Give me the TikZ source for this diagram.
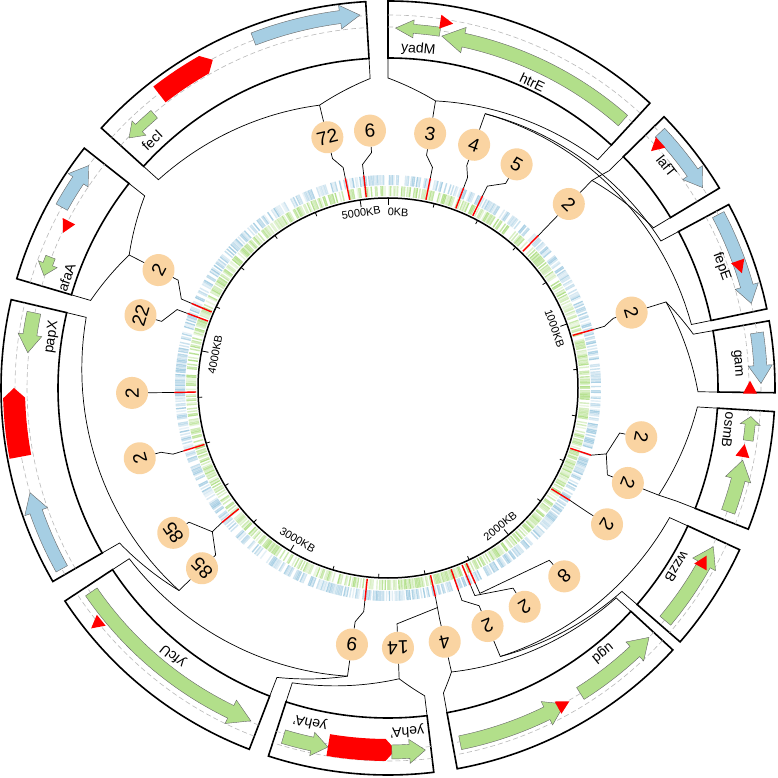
\documentclass[tikz,border=0pt]{standalone}
\usepackage{fontspec}
\setmainfont{Liberation Sans}
\usepackage{xcolor}
\usepackage{tikz}

\definecolor{gbar}{RGB}{178,223,138}
\definecolor{bbar}{RGB}{166,206,227}
\definecolor{peach}{RGB}{250,212,162}
\definecolor{dashgray}{RGB}{185,185,185}

% angles are taken clockwise from the top, radii in px
\newcommand{\genebox}[2]{%
  \draw[boxline] ({90-#1}:330) arc[start angle={90-#1}, end angle={90-#2}, radius=330]
    -- ({90-#2}:387) arc[start angle={90-#2}, end angle={90-#1}, radius=387] -- cycle;
  \draw[strand] ({90-#1}:361) arc[start angle={90-#1}, end angle={90-#2}, radius=361];
  \draw[strand] ({90-#1}:373) arc[start angle={90-#1}, end angle={90-#2}, radius=373];
}
\newcommand{\fan}[2]{%
  \draw[thinline] plot[domain=0:1, samples=30, variable=\fr] ({90-#1-(#2-#1)*\fr}:{291+19*\fr}) -- ({90-#2}:330);
}
% style, tail, tip, centre radius, body half width, head half width, head length
\newcommand{\genearrow}[7]{%
  \pgfmathsetmacro{\ga}{90-#2}%
  \pgfmathsetmacro{\gb}{90-#3+sign(#3-#2)*#7/#4*57.296}%
  \pgfmathsetmacro{\gc}{90-#3}%
  \pgfmathsetmacro{\gri}{#4-#5}\pgfmathsetmacro{\gro}{#4+#5}%
  \pgfmathsetmacro{\ghi}{#4-#6}\pgfmathsetmacro{\gho}{#4+#6}%
  \filldraw[#1] (\ga:\gri) arc[start angle=\ga, end angle=\gb, radius=\gri] -- (\gb:\ghi) -- (\gc:#4)
    -- (\gb:\gho) -- (\gb:\gro) arc[start angle=\gb, end angle=\ga, radius=\gro] -- cycle;
}
\newcommand{\redflag}[3]{%
  \begin{scope}[shift={({90-#1}:#2)}, rotate={#3}]
    \fill[red] (8,0) -- (-5,7) -- (-5,-7) -- cycle;
  \end{scope}}

\begin{document}
\begin{tikzpicture}[x=1pt, y=1pt,
    boxline/.style={line width=1.6pt, fill=white},
    strand/.style={dashgray, dashed, dash pattern=on 5pt off 3pt, line width=0.6pt},
    thinline/.style={line width=0.7pt},
    link/.style={line width=0.7pt},
    greengene/.style={fill=gbar, draw=black!60, line width=0.4pt},
    bluegene/.style={fill=bbar, draw=black!60, line width=0.4pt},
    redgene/.style={fill=red, draw=none},
    bubble/.style={circle, fill=peach, minimum size=32pt, inner sep=0pt, font=\fontsize{19}{19}\selectfont},
    genelabel/.style={font=\fontsize{14}{14}\selectfont, inner sep=0pt},
    kblabel/.style={font=\fontsize{11}{11}\selectfont, inner sep=0pt}]
\path[fill=white, use as bounding box] (-388,-390) rectangle (389,388);

% gene tracks
\pgfmathsetseed{42}
\foreach \k in {0,...,899}{
  \pgfmathsetmacro{\ang}{90-\k*0.4}
  \pgfmathtruncatemacro{\gs}{rnd<0.3 ? 0 : 25+75*rnd}
  \ifnum\gs>0 \draw[gbar!\gs, line width=1.4pt] (\ang:192) -- (\ang:202); \fi
  \pgfmathtruncatemacro{\bs}{rnd<0.3 ? 0 : 25+75*rnd}
  \ifnum\bs>0 \draw[bbar!\bs, line width=1.4pt] (\ang:203) -- (\ang:213); \fi
}
\draw[line width=1.5pt] (0,0) circle[radius=190];
\foreach \k in {0,...,25}{
  \pgfmathsetmacro{\ang}{90-\k*14.0625}
  \pgfmathsetmacro{\tl}{mod(\k,5)==0 ? 183 : 186}
  \draw[line width=0.8pt] (\ang:190) -- (\ang:\tl);
}
\node[kblabel, rotate=-3.1] (k0) at ({90-3.3}:176) {0KB};
\node[kblabel, rotate=-70.3] (k1) at ({90-70.3}:177) {1000KB};
\node[kblabel, rotate=39.1] (k2) at ({90-140.9}:178) {2000KB};
\node[kblabel, rotate=-30.7] (k3) at ({90-210.7}:177) {3000KB};
\node[kblabel, rotate=79.1] (k4) at ({90-280.9}:176) {4000KB};
\node[kblabel, rotate=8.5] (k5) at ({90-351.3}:177) {5000KB};

% red marks on the tracks
\foreach \a in {348.5,353.5,11.4,20.7,26.2,44.6,74.1,108.3,121.7,155.9,157.3,160.8,167.2,186.2,231,252.9,268.8,290.4,293.3}
  \draw[red, line width=1.4pt] ({90-\a}:192) -- ({90-\a}:214);

% bubbles
\node[bubble, rotate=13.6] (b72) at ({90-346.4}:258) {72};
\node[bubble, rotate=4] (b6) at ({90-356}:258) {6};
\node[bubble, rotate=-9.4] (b3) at ({90-9.4}:258) {3};
\node[bubble, rotate=-19.5] (b4a) at ({90-19.5}:258) {4};
\node[bubble, rotate=-29.9] (b5) at ({90-29.9}:258) {5};
\node[bubble, rotate=-44.5] (b2a) at ({90-44.5}:258) {2};
\node[bubble, rotate=-72.8] (b2b) at ({90-72.8}:255) {2};
\node[bubble, rotate=-101] (b2c) at ({90-101}:258) {2};
\node[bubble, rotate=-111.6] (b2d) at ({90-111.6}:258) {2};
\node[bubble, rotate=-121.9] (b2e) at ({90-121.9}:258) {2};
\node[bubble, rotate=-136.9] (b8) at ({90-136.9}:258) {8};
\node[bubble, rotate=-148] (b2f) at ({90-148}:258) {2};
\node[bubble, rotate=-157.3] (b2g) at ({90-157.3}:258) {2};
\node[bubble, rotate=-167.4] (b4b) at ({90-167.4}:260) {4};
\node[bubble, rotate=-177.8] (b14) at ({90-177.8}:260) {14};
\node[bubble, rotate=-188] (b9) at ({90-188}:259) {9};
\node[bubble, rotate=-225.9] (b85a) at ({90-225.9}:259) {85};
\node[bubble, rotate=-236] (b85b) at ({90-236}:259) {85};
\node[bubble, rotate=-254.2] (b2h) at ({90-254.2}:258) {2};
\node[bubble, rotate=-268.9] (b2i) at ({90-268.9}:256) {2};
\node[bubble, rotate=-286.4] (b22) at ({90-286.4}:258) {22};
\node[bubble, rotate=-297.2] (b2j) at ({90-297.2}:258) {2};

% links from bubbles down to the marks
\draw[link] (b72) -- ({90-346.4}:236) -- ({90-348.5}:225) -- ({90-348.5}:214);
\draw[link] (b6) -- ({90-356}:236) -- ({90-353.5}:225) -- ({90-353.5}:214);
\draw[link] (b3) -- ({90-9.4}:236) -- ({90-11.4}:225) -- ({90-11.4}:214);
\draw[link] (b4a) -- ({90-19.5}:236) -- ({90-20.7}:225) -- ({90-20.7}:214);
\draw[link] (b5) -- ({90-29.9}:236) -- ({90-26.2}:225) -- ({90-26.2}:214);
\draw[link] (b2a) -- ({90-44.6}:214);
\draw[link] (b2b) -- ({90-72.8}:236) -- ({90-74.1}:225) -- ({90-74.1}:214);
\draw[link] (b2c) -- ({90-101}:236) -- ({90-106.8}:228);
\draw[link] (b2d) -- ({90-111.6}:236) -- ({90-106.8}:228) -- ({90-108.3}:214);
\draw[link] (b2e) -- ({90-121.9}:236) -- ({90-121.7}:214);
\draw[link] (b8) -- ({90-136.9}:236) -- ({90-155.9}:225) -- ({90-155.9}:214);
\draw[link] (b2f) -- ({90-148}:236) -- ({90-157.3}:225) -- ({90-157.3}:214);
\draw[link] (b2g) -- ({90-157.3}:236) -- ({90-160.8}:225) -- ({90-160.8}:214);
\draw[link] (b4b) -- ({90-167.4}:236) -- ({90-167.2}:214);
\draw[link] (b14) -- ({90-177.8}:236) -- ({90-167.2}:225);
\draw[link] (b9) -- ({90-188}:236) -- ({90-186.2}:225) -- ({90-186.2}:214);
\draw[link] (b85a) -- ({90-225.9}:240) -- ({90-230.7}:227);
\draw[link] (b85b) -- ({90-236}:240) -- ({90-230.7}:227) -- ({90-231}:214);
\draw[link] (b2h) -- ({90-254.2}:236) -- ({90-252.9}:225) -- ({90-252.9}:214);
\draw[link] (b2i) -- ({90-268.8}:214);
\draw[link] (b22) -- ({90-286.4}:236) -- ({90-290.4}:225) -- ({90-290.4}:214);
\draw[link] (b2j) -- ({90-297.2}:236) -- ({90-293.3}:225) -- ({90-293.3}:214);

% callouts
\coordinate (t72) at ({90-346.4}:291);
\coordinate (t3) at ({90-9.4}:291);
\coordinate (t4) at ({90-19.5}:291);
\coordinate (t2a) at ({90-44.5}:291);
\coordinate (t2b) at ({90-72.8}:291);
\coordinate (t2d) at ({90-111.6}:291);
\coordinate (t2g) at ({90-157.3}:291);
\coordinate (t4b) at ({90-167.4}:291);
\coordinate (t14) at ({90-177.8}:291);
\coordinate (t9) at ({90-188}:291);
\coordinate (t85) at ({90-225.9}:291);
\coordinate (t2j) at ({90-297.2}:291);
\draw[thinline] (b72) -- (t72);
\draw[thinline] (b3) -- (t3);
\draw[thinline] (b4a) -- (t4);
\draw[thinline] (b2a) -- (t2a);
\draw[thinline] (b2b) -- (t2b);
\draw[thinline] (b2d) -- (t2d);
\draw[thinline] (b2g) -- (t2g);
\draw[thinline] (b4b) -- (t4b);
\draw[thinline] (b14) -- (t14);
\draw[thinline] (b9) -- (t9);
\draw[thinline] (b85a) -- (t85);
\draw[thinline] (b2j) -- (t2j);
\fan{346.4}{312.2} \fan{346.4}{356.7}
\fan{9.4}{0} \fan{9.4}{42.6}
\fan{44.5}{45.5} \fan{44.5}{58.9}
\fan{19.5}{61.7} \fan{19.5}{78.2}
\fan{72.8}{80} \fan{72.8}{90.7}
\fan{111.6}{93.5} \fan{111.6}{111.4}
\fan{157.3}{114.7} \fan{157.3}{131}
\fan{167.4}{132.6} \fan{167.4}{169.7}
\fan{177.8}{173.2} \fan{177.8}{198}
\fan{188}{201} \fan{188}{236.6}
\fan{225.9}{240} \fan{225.9}{283.2}
\fan{297.2}{286.4} \fan{297.2}{308.3}

% gene boxes
\genebox{0}{42.6}
\genebox{45.5}{58.9}
\genebox{61.7}{78.2}
\genebox{80}{90.7}
\genebox{93.5}{111.4}
\genebox{114.7}{131}
\genebox{132.6}{169.7}
\genebox{173.2}{198}
\genebox{201}{236.6}
\genebox{240}{283.2}
\genebox{286.4}{308.3}
\genebox{312.2}{356.7}

% genes
\genearrow{greengene}{8.3}{1.2}{360}{4.5}{9}{18}
\redflag{8.9}{370}{-8.9}
\genearrow{greengene}{41.3}{8.7}{356}{7}{13}{22}
\genearrow{bluegene}{46.8}{57.5}{373}{6.5}{12}{18}
\redflag{48}{362}{222}
\genearrow{bluegene}{62.3}{76.9}{373}{6.5}{12}{18}
\redflag{70.8}{372}{-70.8}
\genearrow{bluegene}{81.5}{89.3}{373}{6.5}{12}{18}
\redflag{90.1}{362}{90}
\genearrow{greengene}{98.3}{94.5}{364}{5}{10}{8}
\redflag{100.2}{361}{80}
\genearrow{greengene}{110}{101.5}{362}{7}{13}{20}
\genearrow{greengene}{130}{116}{362}{7}{13}{20}
\redflag{119}{360}{61}
\genearrow{greengene}{168.5}{150.8}{362}{7}{13}{20}
\redflag{151.2}{362}{29}
\genearrow{greengene}{147.8}{133.7}{361}{7}{13}{20}
\genearrow{greengene}{196.7}{189.5}{364}{7}{12}{16}
\genearrow{redgene}{189.5}{178.8}{362}{11}{11}{10}
\genearrow{greengene}{179.4}{174.1}{364}{7}{12}{16}
\genearrow{greengene}{235.5}{202.4}{360}{7}{13}{22}
\redflag{231}{374}{-141}
\genearrow{greengene}{282}{275.6}{362}{7}{12}{18}
\genearrow{redgene}{259.4}{270}{374}{11}{11}{10}
\genearrow{bluegene}{241}{253.7}{373}{6.5}{12}{20}
\genearrow{bluegene}{299}{306.6}{373}{6.5}{12}{18}
\redflag{296.8}{360}{-117}
\genearrow{greengene}{291.2}{288.1}{362}{5}{10}{12}
\genearrow{bluegene}{338.9}{355.7}{374}{6.5}{12}{20}
\genearrow{redgene}{322.1}{331.9}{372}{10}{10}{10}
\genearrow{greengene}{319.5}{314}{360}{5}{10}{14}

% gene names
\node[genelabel, rotate=-5.1] (lyadM) at ({90-5.1}:340) {yadM};
\node[genelabel, rotate=-25.3] (lhtrE) at ({90-25.3}:338) {htrE};
\node[genelabel, rotate=-51.5] (llafT) at ({90-51.5}:356) {lafT};
\node[genelabel, rotate=-70] (lfepE) at ({90-70}:355) {fepE};
\node[genelabel, rotate=-86] (lgam) at ({90-86}:350) {gam};
\node[genelabel, rotate=-97] (losmB) at ({90-97}:343) {osmB};
\node[genelabel, rotate=-121.8] (lwzzB) at ({90-121.8}:340) {wzzB};
\node[genelabel, rotate=-141] (lugd) at ({90-141}:341) {ugd};
\node[genelabel, rotate=-193.1] (lyehAa) at ({90-193.1}:343) {yehA'};
\node[genelabel, rotate=-176.8] (lyehAb) at ({90-176.8}:343.6) {yehA'};
\node[genelabel, rotate=-218.8] (lyfcU) at ({90-218.8}:343) {yfcU};
\node[genelabel, rotate=-278.6] (lpapX) at ({90-278.6}:340) {papX};
\node[genelabel, rotate=-289] (lafaA) at ({90-289}:340) {afaA};
\node[genelabel, rotate=-316.4] (lfecI) at ({90-316.4}:342) {fecI};
\end{tikzpicture}
\end{document}
